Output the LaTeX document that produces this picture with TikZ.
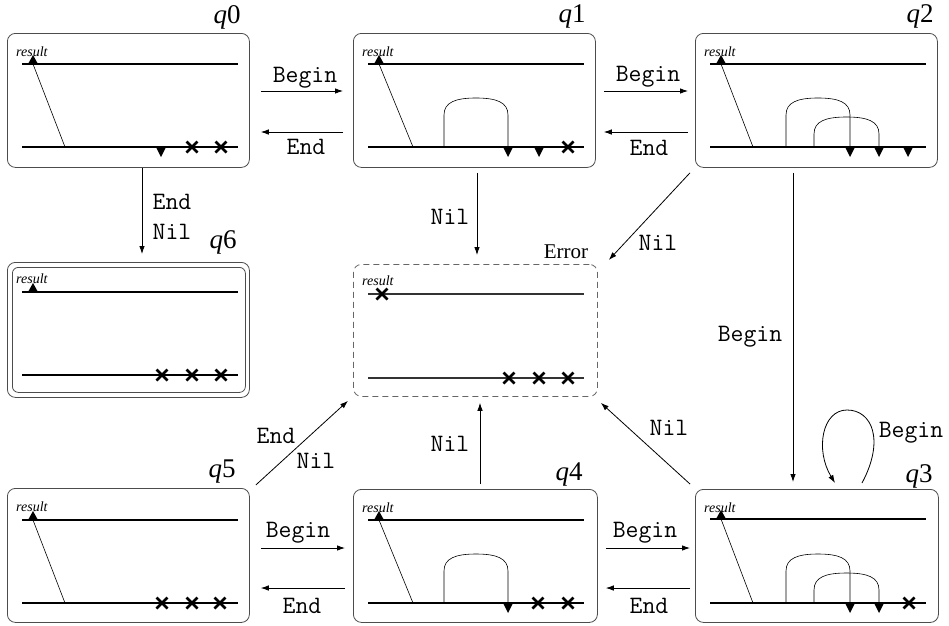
\documentclass[tikz,border=0pt]{standalone}
\usepackage{fontspec}
\setmainfont{Liberation Serif}
\usetikzlibrary{calc,arrows.meta}
\newcommand\mkup[2]{\fill (#1-5,#2) -- (#1+5,#2) -- (#1,#2-9) -- cycle;}
\newcommand\mkdown[2]{\fill (#1-5,#2) -- (#1+5,#2) -- (#1,#2+10) -- cycle;}
\newcommand\mkcross[2]{\draw[line width=2.6pt] (#1-5.5,#2-5.5) -- (#1+5.5,#2+5.5) (#1-5.5,#2+5.5) -- (#1+5.5,#2-5.5);}
\newcommand\mkdome[3]{\draw[thinl] (#1,114) -- (#1,#3+17) .. controls (#1,#3+4) and (#1+12,#3) .. ({(#1+#2)/2},#3) .. controls (#2-12,#3) and (#2,#3+4) .. (#2,#3+17) -- (#2,114);}
\begin{document}
\begin{tikzpicture}[x=1pt,y=-1pt,
 box/.style={draw=black!70, line width=0.8pt, rounded corners=8pt, minimum width=242pt, minimum height=134pt, anchor=north west, inner sep=0pt},
 arr/.style={-{Latex[length=8pt,width=5.5pt]}, line width=0.8pt},
 lbl/.style={font=\fontsize{25}{26}\selectfont\ttfamily, inner sep=0pt},
 qlbl/.style={font=\fontsize{27}{28}\selectfont, inner sep=0pt},
 res/.style={font=\fontsize{14}{14}\selectfont\itshape, inner sep=0pt, anchor=west},
 tape/.style={line width=1.4pt},
 thinl/.style={line width=0.6pt}]
\useasboundingbox (0,0) rectangle (949,625);

% boxes
\node[box] (q0) at (7,33) {};
\node[box] (q1) at (353,33) {};
\node[box] (q2) at (695,33) {};
\node[box, minimum height=135pt] (q6) at (7,262) {};
\node[box, minimum width=233pt, minimum height=125pt, rounded corners=6pt] (q6in) at (12,267) {};
\node[box, dashed, dash pattern=on 6pt off 4pt, draw=black!60, minimum width=244pt, minimum height=132pt] (err) at (353,264) {};
\node[box, minimum height=133pt, minimum width=243pt] (q3) at (695,489) {};
\node[box, minimum height=133pt, minimum width=244pt] (q4) at (353,489) {};
\node[box] (q5) at (7,488) {};

% state labels
\node[qlbl] (l0) at (227,17) {\itshape q\upshape 0};
\node[qlbl] (l1) at (572,16) {\itshape q\upshape 1};
\node[qlbl] (l2) at (920,16) {\itshape q\upshape 2};
\node[qlbl] (l6) at (223,242) {\itshape q\upshape 6};
\node[qlbl, font=\fontsize{21}{22}\selectfont] (le) at (566,252) {Error};
\node[qlbl] (l5) at (222,472) {\itshape q\upshape 5};
\node[qlbl] (l4) at (569,474) {\itshape q\upshape 4};
\node[qlbl] (l3) at (919,476) {\itshape q\upshape 3};

% q0
\begin{scope}[shift={(q0.north west)}]
\node[res] (r0) at (9,19) {result};
\draw[tape] (15,31) -- (231,31) (15,114) -- (231,114);
\draw[thinl] (26,31) -- (58,114);
\mkup{26}{31}
\mkdown{154}{114}
\mkcross{185}{114}
\mkcross{214}{114}
\end{scope}

% q1
\begin{scope}[shift={(q1.north west)}]
\node[res] (r1) at (9,19) {result};
\draw[tape] (15,31) -- (231,31) (15,114) -- (231,114);
\draw[thinl] (26,31) -- (60,114);
\mkup{26}{31}
\mkdome{91}{155}{65}
\mkdown{155}{114}
\mkdown{186}{114}
\mkcross{215}{114}
\end{scope}

% q2
\begin{scope}[shift={(q2.north west)}]
\node[res] (r2) at (9,19) {result};
\draw[tape] (15,31) -- (231,31) (15,114) -- (231,114);
\draw[thinl] (26,31) -- (58,114);
\mkup{26}{31}
\mkdome{91}{155}{65}
\mkdome{119}{184}{84}
\mkdown{155}{114}
\mkdown{184}{114}
\mkdown{213}{114}
\end{scope}

% q6
\begin{scope}[shift={(q6.north west)}]
\node[res] (r6) at (9,17) {result};
\draw[tape] (15,30) -- (231,30) (15,113) -- (231,113);
\mkup{26}{30}
\mkcross{155}{113}
\mkcross{185}{113}
\mkcross{214}{113}
\end{scope}

% Error
\begin{scope}[shift={(err.north west)}]
\node[res] (re) at (9,17) {result};
\draw[tape, draw=black!80] (15,30) -- (231,30) (15,114) -- (231,114);
\mkcross{29}{30}
\mkcross{156}{114}
\mkcross{186}{114}
\mkcross{215}{114}
\end{scope}

% q3
\begin{scope}[shift={(q3.north west)}]
\node[res] (r3) at (9,19) {result};
\draw[tape] (15,30) -- (231,30) (15,114) -- (231,114);
\draw[thinl] (26,30) -- (58,114);
\mkup{26}{30}
\mkdome{91}{155}{65}
\mkdome{119}{184}{84}
\mkdown{155}{114}
\mkdown{184}{114}
\mkcross{214}{114}
\end{scope}

% q4
\begin{scope}[shift={(q4.north west)}]
\node[res] (r4) at (9,19) {result};
\draw[tape] (15,31) -- (231,31) (15,114) -- (231,114);
\draw[thinl] (26,31) -- (60,114);
\mkup{26}{31}
\mkdome{91}{155}{65}
\mkdown{155}{114}
\mkcross{185}{114}
\mkcross{215}{114}
\end{scope}

% q5
\begin{scope}[shift={(q5.north west)}]
\node[res] (r5) at (9,19) {result};
\draw[tape] (15,32) -- (231,32) (15,115) -- (231,115);
\draw[thinl] (26,32) -- (58,115);
\mkup{26}{32}
\mkcross{155}{115}
\mkcross{185}{115}
\mkcross{213}{115}
\end{scope}

% connectors
\draw[arr] ($(q0.north east)+(11,58)$) -- ($(q1.north west)+(-10,58)$);
\draw[arr] ($(q1.north west)+(-10,99)$) -- ($(q0.north east)+(11,99)$);
\draw[arr] ($(q1.north east)+(8,58)$) -- ($(q2.north west)+(-7,58)$);
\draw[arr] ($(q2.north west)+(-7,99)$) -- ($(q1.north east)+(8,99)$);
\draw[arr] ($(q0.south west)+(135,0)$) -- ($(q6.north west)+(135,-8)$);
\draw[arr] ($(q1.south west)+(124,5)$) -- ($(err.north west)+(124,-9)$);
\draw[arr] ($(q2.south west)+(-5,5)$) -- ($(err.north east)+(11,-4)$);
\draw[arr] ($(q2.south west)+(98,5)$) -- ($(q3.north west)+(98,-7)$);
\draw[arr] ($(q3.north west)+(167,-6)$) .. controls (885,440) and (872,410) .. (847,410) .. controls (822,410) and (815,450) .. ($(q3.north west)+(140,-6)$);
\draw[arr] ($(q3.north west)+(-5,-5)$) -- ($(err.south east)+(3,6)$);
\draw[arr] ($(q4.north west)+(127,-5)$) -- ($(err.south west)+(127,6)$);
\draw[arr] ($(q5.north east)+(6,-3)$) -- ($(err.south west)+(-5,4)$);
\draw[arr] ($(q5.north east)+(11,60)$) -- ($(q4.north west)+(-8,59)$);
\draw[arr] ($(q4.north west)+(-8,99)$) -- ($(q5.north east)+(11,100)$);
\draw[arr] ($(q4.north east)+(8,59)$) -- ($(q3.north west)+(-5,59)$);
\draw[arr] ($(q3.north west)+(-5,99)$) -- ($(q4.north east)+(8,99)$);

% connector labels
\node[lbl] (t1) at (305,78) {Begin};
\node[lbl] (t2) at (306,147) {End};
\node[lbl] (t3) at (648,77) {Begin};
\node[lbl] (t4) at (649,148) {End};
\node[lbl] (t5) at (172,202) {End};
\node[lbl] (t6) at (172,232) {Nil};
\node[lbl] (t7) at (450,217) {Nil};
\node[lbl] (t8) at (658,243) {Nil};
\node[lbl] (t9) at (750,337) {Begin};
\node[lbl] (t10) at (911,433) {Begin};
\node[lbl] (t11) at (669,428) {Nil};
\node[lbl] (t12) at (450,444) {Nil};
\node[lbl] (t13) at (276,436) {End};
\node[lbl] (t14) at (316,461) {Nil};
\node[lbl] (t15) at (298,533) {Begin};
\node[lbl] (t16) at (302,606) {End};
\node[lbl] (t17) at (645,533) {Begin};
\node[lbl] (t18) at (649,606) {End};
\end{tikzpicture}
\end{document}
